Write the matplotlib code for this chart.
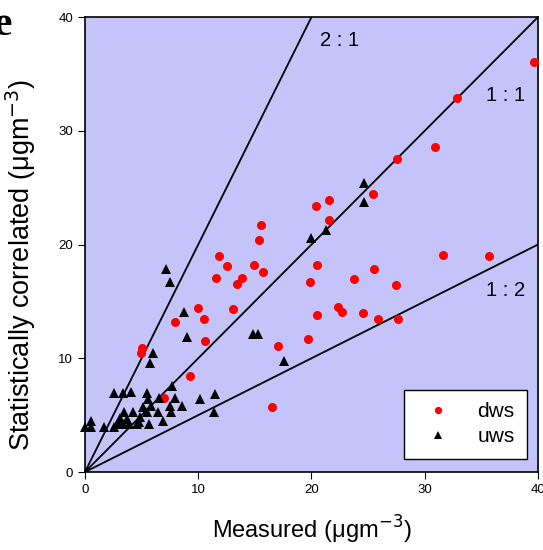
import matplotlib
matplotlib.use("Agg")
import matplotlib.pyplot as plt
import numpy as np

plt.rcParams["font.family"] = ["Liberation Sans", "DejaVu Sans"]

# dws (red circles)
dws_x = [39.65, 32.82, 30.93, 27.58, 25.40, 20.42, 21.52, 21.52, 31.64, 35.70,
         20.49, 19.84, 23.75, 25.49, 27.44, 20.46, 22.34, 22.69, 24.55, 25.85,
         27.66, 19.72, 15.54, 15.39, 11.86, 12.57, 14.95, 15.74, 11.59, 13.84,
         13.42, 9.95, 10.48, 13.10, 7.97, 10.60, 5.06, 4.97, 9.27, 17.04,
         16.49, 6.95]
dws_y = [36.02, 32.85, 28.55, 27.52, 24.44, 23.41, 23.91, 22.13, 19.10, 18.96,
         18.17, 16.70, 16.94, 17.85, 16.47, 13.78, 14.48, 14.09, 13.98, 13.48,
         13.42, 11.69, 21.69, 20.37, 18.99, 18.14, 18.17, 17.58, 17.05, 17.08,
         16.53, 14.44, 13.48, 14.36, 13.16, 11.49, 10.87, 10.44, 8.47, 11.08,
         5.74, 6.53]

# uws (black triangles)
uws_x = [24.64, 24.64, 21.28, 19.98, 7.18, 7.51, 8.77, 9.03, 6.03, 5.71,
         14.86, 15.28, 17.60, 7.71, 2.59, 3.33, 4.06, 5.47, 5.56, 6.51,
         7.97, 10.13, 11.51, 5.83, 7.53, 8.57, 5.12, 6.45, 5.50, 3.47,
         4.26, 7.57, 11.39, 3.09, 3.68, 4.86, 6.86, 0.53, 0.0, 0.50,
         1.68, 2.56, 2.85, 3.38, 3.91, 4.57, 4.79, 5.62, 2.94]
uws_y = [25.38, 23.71, 21.27, 20.57, 17.82, 16.73, 14.07, 11.89, 10.44, 9.58,
         12.11, 12.11, 9.76, 7.59, 6.92, 6.92, 7.01, 6.97, 6.39, 6.48,
         6.48, 6.42, 6.86, 5.80, 5.80, 5.80, 5.69, 5.25, 5.25, 5.25,
         5.25, 5.25, 5.25, 4.77, 4.63, 4.81, 4.51, 4.51, 3.98, 3.98,
         3.98, 3.98, 4.22, 4.22, 4.22, 4.22, 4.37, 4.22, 4.33]

ratios = [2, 1, 0.5]
ratio_labels = ["2 : 1", "1 : 1", "1 : 2"]
label_pos = [(22.5, 37.9), (37.1, 33.1), (37.1, 16.0)]

fig = plt.figure(figsize=(5.43, 5.50), dpi=100)
ax = fig.add_axes([0.1565, 0.1418, 0.8343, 0.8272])
ax.set_facecolor("#C4C4FA")

xs = np.array([0, 40])
for r in ratios:
    ax.plot(xs, r * xs, color="black", lw=1.3, zorder=2)
for lab, (lx, ly) in zip(ratio_labels, label_pos):
    ax.text(lx, ly, lab, fontsize=14.5, ha="center", va="center", zorder=3)

ax.plot(dws_x, dws_y, "o", color="red", markersize=6.5, markeredgewidth=0,
        label="dws", zorder=4, clip_on=False)
ax.plot(uws_x, uws_y, "^", color="black", markersize=7.5, markeredgewidth=0,
        label="uws", zorder=4, clip_on=False)

ax.set_xlim(0, 40)
ax.set_ylim(0, 40)
ax.set_xticks([0, 10, 20, 30, 40])
ax.set_yticks([0, 10, 20, 30, 40])
ax.tick_params(direction="out", length=5, labelsize=9.5)
for s in ax.spines.values():
    s.set_linewidth(1.2)

ax.set_xlabel("Measured (\u03bcgm$^{-3}$)", fontsize=17, labelpad=13)
ax.set_ylabel("Statistically correlated (\u03bcgm$^{-3}$)", fontsize=19.5)
ax.yaxis.set_label_coords(-0.104, 0.455)

leg = ax.legend(loc="lower right", bbox_to_anchor=(0.9757, 0.0286), fontsize=15,
                frameon=True, fancybox=False, edgecolor="black",
                framealpha=1, markerfirst=True, handlelength=2.0,
                handletextpad=0.9, borderpad=0.6, labelspacing=0.3,
                borderaxespad=0, markerscale=0.8)
leg.get_frame().set_linewidth(1.0)

fig.text(12 / 543, 1 - 35 / 550, "e", fontsize=30, fontweight="bold",
         family="Liberation Serif", ha="right", va="baseline")

fig.savefig("out.png", dpi=100)
